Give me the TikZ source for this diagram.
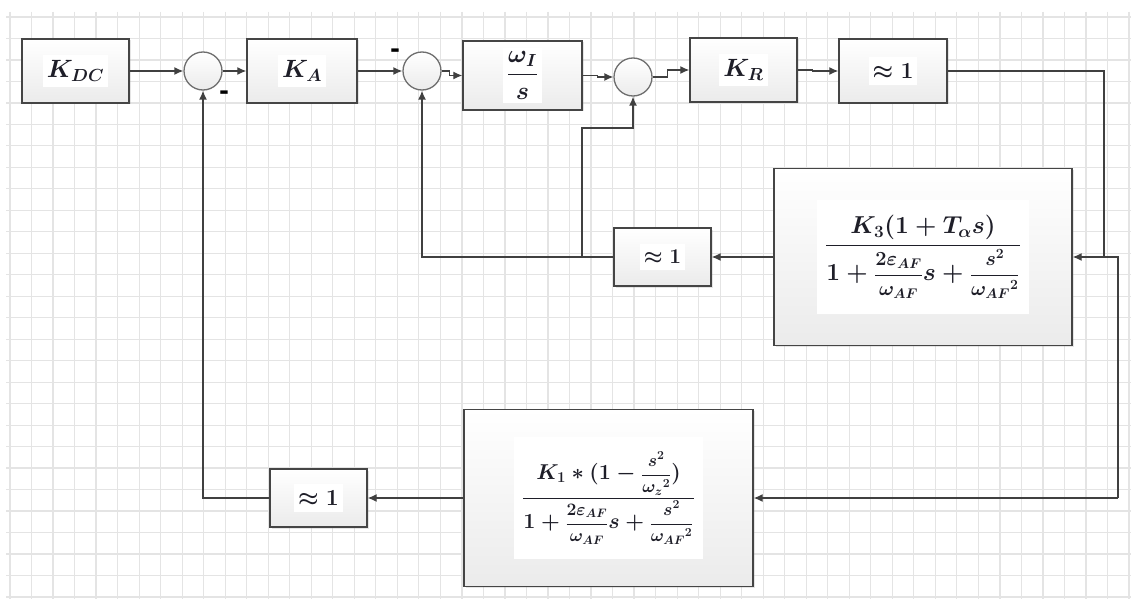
\documentclass[tikz,border=0pt]{standalone}
\usepackage{fix-cm}
\usepackage{amsmath}
\usepackage[no-math]{fontspec}
\newfontfamily\dvs{DejaVu Sans}
\usetikzlibrary{arrows.meta,shadows}
\newcommand\ifr[3]{\mbox{\fontsize{#1}{#1}\selectfont$\dfrac{#2}{#3}$}}
\definecolor{gridc}{HTML}{E4E4E4}
\definecolor{linec}{HTML}{404040}
\definecolor{boxc}{HTML}{454545}
\definecolor{circc}{HTML}{6E6E6E}
\definecolor{textc}{HTML}{1E1E28}
\definecolor{fillb}{HTML}{EBEBEB}
\tikzset{
  gridline/.style={draw=gridc, line width=1.2pt},
  blk/.style={draw=boxc, line width=1.4pt, top color=white, bottom color=fillb, rectangle,
    drop shadow={shadow xshift=1.5pt, shadow yshift=-1.5pt, opacity=0.2}},
  sumc/.style={draw=circc, line width=1.3pt, circle, minimum size=38pt, inner sep=0pt,
    top color=white, bottom color=fillb},
  lbl/.style={fill=white, text=textc, inner xsep=4pt, inner ysep=6pt,
    font=\fontsize{25}{30}\selectfont\boldmath},
  flbl/.style={fill=white, text=textc, inner xsep=8pt, inner ysep=15pt},
  conn/.style={draw=linec, line width=1.3pt},
  arr/.style={conn, -{Latex[length=9pt,width=8pt]}},
  minus/.style={text=black, font=\fontsize{24}{26}\dvs\bfseries, inner sep=0pt}
}
\begin{document}
\begin{tikzpicture}[x=1pt,y=-1pt]
\useasboundingbox (0,0) rectangle (1131,599);
\fill[white] (0,0) rectangle (1131,599);
% grid
\foreach \i in {0,...,52} {\draw[gridline] ({10+21.52*\i},12) -- ({10+21.52*\i},599);}
\foreach \j in {0,...,27} {\draw[gridline] (6,{17+21.48*\j}) -- (1131,{17+21.48*\j});}
% blocks
\node[blk, minimum width=107pt, minimum height=64pt] (kdc) at (75.5,71) {};
\node[lbl] (kdcT) at (kdc) {$K_{DC}$};
\node[sumc] (s1) at (203,71) {};
\node[blk, minimum width=110pt, minimum height=64pt] (ka) at (302,71) {};
\node[lbl] (kaT) at (ka) {$K_{A}$};
\node[sumc] (s2) at (422,71) {};
\node[blk, minimum width=119pt, minimum height=69pt] (wi) at (522.5,75.5) {};
\node[lbl, inner ysep=3pt] (wiT) at (wi) {$\dfrac{\omega_I}{s}$};
\node[sumc] (s3) at (633,77) {};
\node[blk, minimum width=107pt, minimum height=64pt] (kr) at (743.5,70) {};
\node[lbl] (krT) at (kr) {$K_{R}$};
\node[blk, minimum width=108pt, minimum height=64pt] (a1) at (893,71) {};
\node[lbl, font=\fontsize{23}{28}\selectfont\boldmath] (a1T) at (a1) {$\approx 1$};
\node[blk, minimum width=298pt, minimum height=177pt] (k3) at (923,257) {};
\node[flbl, font=\fontsize{24.5}{30}\selectfont\boldmath] (k3T) at (k3)
  {$\dfrac{K_3(1+T_\alpha s)}{1+\ifr{20}{2\varepsilon_{AF}}{\omega_{AF}}s+\ifr{20}{s^2}{{\omega_{AF}}^2}}$};
\node[blk, minimum width=97pt, minimum height=58pt] (a2) at (662.5,257) {};
\node[lbl, font=\fontsize{21}{26}\selectfont\boldmath] (a2T) at (a2) {$\approx 1$};
\node[blk, minimum width=289pt, minimum height=177pt] (k1) at (608.5,498) {};
\node[flbl, font=\fontsize{21.5}{27}\selectfont\boldmath] (k1T) at (k1)
  {$\dfrac{K_1\ast(1-\ifr{17.5}{s^2}{{\omega_z}^2})}{1+\ifr{17.5}{2\varepsilon_{AF}}{\omega_{AF}}s+\ifr{17.5}{s^2}{{\omega_{AF}}^2}}$};
\node[blk, minimum width=97pt, minimum height=58pt] (a3) at (318.5,498) {};
\node[lbl, font=\fontsize{23}{28}\selectfont\boldmath] (a3T) at (a3) {$\approx 1$};
% minus signs
\node[minus] (m1) at (224,95) {-};
\node[minus] (m2) at (395,53) {-};
% forward path
\draw[arr] (kdc.east) -- (s1.west);
\draw[arr] (s1.east) -- (ka.west);
\draw[arr] (ka.east) -- (s2.west);
\draw[arr] (s2.east) -- ++(8,0) |- (wi.west);
\draw[arr] (wi.east) -- ++(15,0) |- (s3.west);
\draw[arr] (s3.east) -- ++(15,0) |- (kr.west);
\draw[arr] (kr.east) -- ++(15,0) |- (a1.west);
% feedback
\coordinate (c1) at (1104,71);
\coordinate (c2) at (1104,257);
\coordinate (c3) at (1118,257);
\coordinate (c4) at (1118,498);
\draw[conn] (a1.east) -- (c1) -- (c2) -- (c3) -- (c4);
\draw[arr] (c4) -- (k1.east);
\draw[arr] (c3) -- (k3.east);
\draw[arr] (k3.west) -- (a2.east);
\coordinate (c5) at (422,257);
\draw[arr] (a2.west) -- (c5) -- (s2.south);
\coordinate (c6) at (582,257);
\coordinate (c7) at (582,128);
\draw[arr] (c6) -- (c7) -| (s3.south);
\draw[arr] (k1.west) -- (a3.east);
\coordinate (c8) at (203,498);
\draw[arr] (a3.west) -- (c8) -- (s1.south);
\end{tikzpicture}
\end{document}
